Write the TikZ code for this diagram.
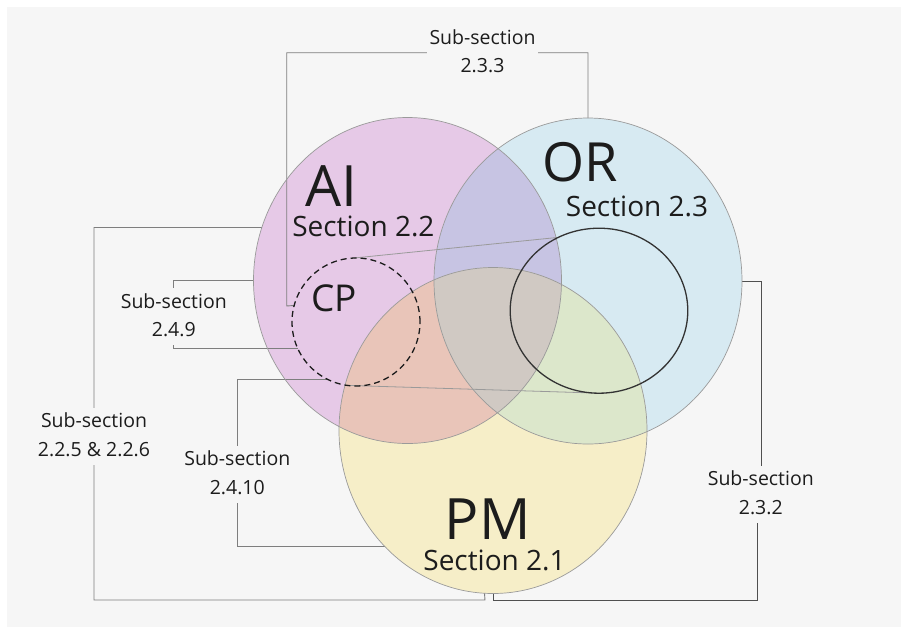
\documentclass[tikz,border=0pt]{standalone}
\usepackage{fontspec}
\setmainfont{Open Sans}
\usetikzlibrary{shapes.geometric}
\pgfdeclarelayer{back}
\pgfdeclarelayer{lines}
\pgfsetlayers{back,lines,main}

\definecolor{bg}{HTML}{F6F6F6}
\definecolor{cAI}{HTML}{E6C9E7}
\definecolor{cOR}{HTML}{D7EAF2}
\definecolor{cPM}{HTML}{F6EEC8}
\definecolor{cAIOR}{HTML}{C7C4E3}
\definecolor{cAIPM}{HTML}{E9C5B9}
\definecolor{cORPM}{HTML}{DCE7CB}
\definecolor{cALL}{HTML}{D0C9C3}
\definecolor{rim}{HTML}{9A9A9A}
\definecolor{link}{HTML}{7E7E7E}
\definecolor{linkdark}{HTML}{505050}
\definecolor{ink}{HTML}{1C1C1C}

\newcommand\twolines[2]{\begin{tabular}[b]{@{}c@{}}#1\\#2\end{tabular}}

\begin{document}
\begin{tikzpicture}[x=1pt,y=-1pt,
  set/.style={ellipse, draw=rim, line width=0.7pt, minimum width=308pt,
    minimum height=326pt, inner sep=0pt, outer sep=0pt},
  conn/.style={draw=link, line width=0.9pt},
  zoomline/.style={draw=rim, line width=0.8pt},
  sub/.style={anchor=base, fill=bg, inner xsep=3pt, inner ysep=0pt, text=ink,
    font=\fontsize{19.5}{28.5}\selectfont},
  big/.style={anchor=base, text=ink, font=\fontsize{57}{60}\selectfont},
  sect/.style={anchor=base, text=ink, font=\fontsize{28}{32}\selectfont}]

\useasboundingbox (0,0) rectangle (908,633);

% canvas and the coloured regions of the three sets
\begin{pgfonlayer}{back}
  \fill[white] (0,0) rectangle (908,633);
  \fill[bg] (7,7) rectangle (901,627);
  \fill[cAI] (407.5,280.5) ellipse [x radius=154, y radius=163];
  \fill[cOR] (588,281) ellipse [x radius=154, y radius=163];
  \fill[cPM] (493,430.5) ellipse [x radius=154, y radius=163];
  \begin{scope}
    \clip (407.5,280.5) ellipse [x radius=154, y radius=163];
    \fill[cAIOR] (588,281) ellipse [x radius=154, y radius=163];
    \fill[cAIPM] (493,430.5) ellipse [x radius=154, y radius=163];
  \end{scope}
  \begin{scope}
    \clip (588,281) ellipse [x radius=154, y radius=163];
    \fill[cORPM] (493,430.5) ellipse [x radius=154, y radius=163];
  \end{scope}
  \begin{scope}
    \clip (407.5,280.5) ellipse [x radius=154, y radius=163];
    \clip (588,281) ellipse [x radius=154, y radius=163];
    \fill[cALL] (493,430.5) ellipse [x radius=154, y radius=163];
  \end{scope}
\end{pgfonlayer}

% set outlines
\node[set] (ai) at (407.5,280.5) {};
\node[set] (or) at (588,281) {};
\node[set] (pm) at (493,430.5) {};

% CP and its enlarged view inside OR
\node[circle, draw=ink, dash pattern=on 6pt off 4pt, line width=1.3pt,
  minimum size=128pt, inner sep=0pt, outer sep=0pt] (cp) at (356,322) {};
\node[ellipse, draw=ink!90, line width=1.3pt, minimum width=177.6pt,
  minimum height=165pt, inner sep=0pt, outer sep=0pt] (cpzoom) at (599,310.7) {};

% set names
\node[big] (ailbl) at (331.7,206) {AI};
\node[sect] (aisec) at (363.4,236.5) {Section 2.2};
\node[big, font=\fontsize{54}{58}\selectfont] (orlbl) at (580,181) {OR};
\node[sect] (orsec) at (637,216.5) {Section 2.3};
\node[big] (pmlbl) at (487.8,539.3) {PM};
\node[sect] (pmsec) at (494.5,570) {Section 2.1};
\node[big, font=\fontsize{37}{40}\selectfont] (cplbl) at (334.3,311.7) {CP};

% sub-section labels
\node[sub] (s233) at (482.5,72.7) {\twolines{Sub-section}{2.3.3}};
\node[sub] (s249) at (173.8,336.7) {\twolines{Sub-section}{2.4.9}};
\node[sub] (s2256) at (94,456) {\twolines{Sub-section}{2.2.5 \& 2.2.6}};
\node[sub] (s2410) at (237.3,494.3) {\twolines{Sub-section}{2.4.10}};
\node[sub] (s232) at (760.8,514) {\twolines{Sub-section}{2.3.2}};

% corner points of the brackets
\coordinate (k233) at (286.7,306);
\coordinate (kbl) at (485,600);
\coordinate (kr1) at (761.7,281);
\coordinate (kr2) at (757,600);

\begin{pgfonlayer}{lines}
  % lines from CP to its enlarged view
  \draw[zoomline] (cp.92) -- (cpzoom.119);
  \draw[zoomline] (cp.262) -- (cpzoom.265);
  % brackets to the sub-section labels
  \draw[conn] (or.north) |- (s233.center) -| (k233) -- (cp.165);
  \draw[conn] (ai.180) -| (s249.center) |- (cp.204);
  \draw[conn] (ai.160) -| (s2256.center) |- (kbl) -- (pm.267);
  \draw[conn] (cp.243) -| (s2410.center) |- (pm.227.6);
  \draw[conn, draw=linkdark] (or.east) -- (kr1) -- (kr1 |- s232.center);
  \draw[conn, draw=linkdark] (s232.center -| kr2) -- (kr2) -| (pm.south);
\end{pgfonlayer}

\end{tikzpicture}
\end{document}
